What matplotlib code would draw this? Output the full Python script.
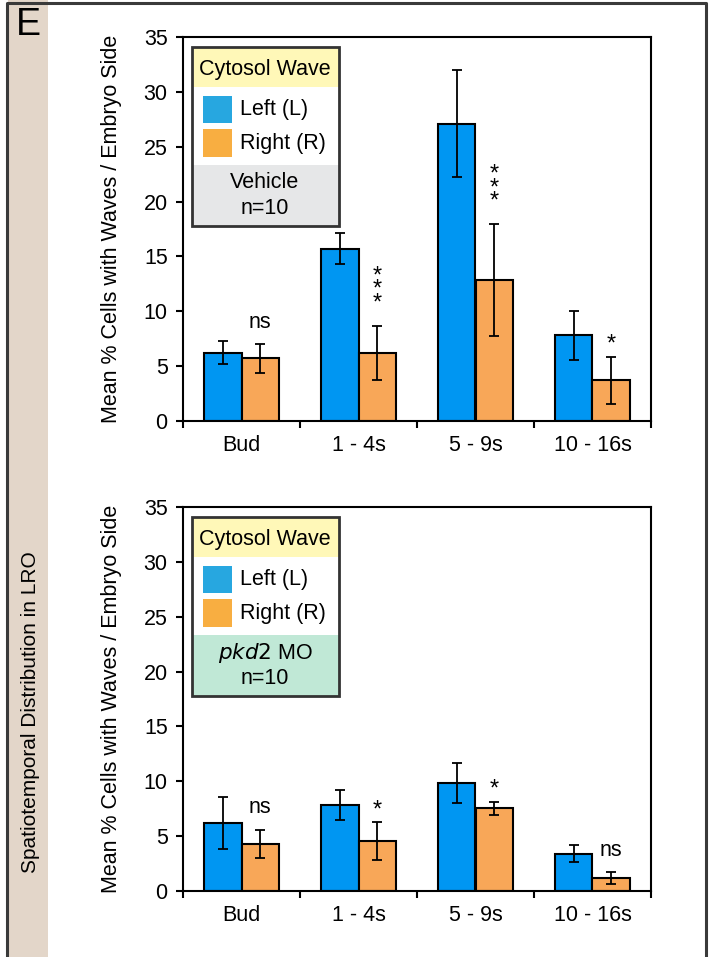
import matplotlib
matplotlib.use("Agg")
import matplotlib.pyplot as plt
from matplotlib.patches import Rectangle
import numpy as np

plt.rcParams['font.family'] = ['Liberation Sans', 'DejaVu Sans']

# Mean % cells with waves per embryo side, with error bars
stages = ["Bud", "1 - 4s", "5 - 9s", "10 - 16s"]

vehicle_left = [6.2, 15.7, 27.1, 7.8]
vehicle_left_err = [1.05, 1.4, 4.85, 2.2]
vehicle_right = [5.7, 6.2, 12.85, 3.7]
vehicle_right_err = [1.3, 2.5, 5.1, 2.15]
vehicle_sig = ["ns", "***", "***", "*"]

pkd2_left = [6.2, 7.85, 9.85, 3.4]
pkd2_left_err = [2.35, 1.4, 1.8, 0.8]
pkd2_right = [4.3, 4.55, 7.55, 1.15]
pkd2_right_err = [1.3, 1.7, 0.6, 0.55]
pkd2_sig = ["ns", "*", "*", "ns"]

W, H = 713, 957
BLUE = "#0096f2"
ORANGE = "#f8a758"
LEG_BLUE = "#27a7e0"
LEG_ORANGE = "#f8ae41"
FS = 15.5


def fx(x):
    return x / W


def fy(y):
    return 1 - y / H


fig = plt.figure(figsize=(W / 100, H / 100), dpi=100)

# outer frame and side strip
fig.add_artist(Rectangle((fx(8), 0), fx(40), 1, transform=fig.transFigure,
                         facecolor="#e3d6c9", edgecolor="none", zorder=0))
fig.add_artist(plt.Line2D([fx(7), fx(7), fx(706), fx(706)], [0, fy(3), fy(3), 0],
                          transform=fig.transFigure, color="#3a3a3a", lw=2.2))
fig.text(fx(28), fy(25), "E", fontsize=27, ha="center", va="center")
fig.text(fx(31), fy(712), "Spatiotemporal Distribution in LRO", rotation=90,
         fontsize=15, ha="center", va="center")


def panel(top_px, left, left_err, right, right_err, sig, cond_label, cond_color):
    bottom_px = top_px + 384
    ax = fig.add_axes([fx(183), fy(bottom_px), fx(651) - fx(183), fy(top_px) - fy(bottom_px)])
    x = np.arange(len(stages)) + 0.5
    bw = 0.32
    ekw = dict(elinewidth=1.3, capthick=1.3, capsize=3.5, ecolor="black")
    ax.bar(x - bw / 2, left, bw, yerr=left_err, color=BLUE, edgecolor="black",
           linewidth=1.5, error_kw=ekw, zorder=2)
    ax.bar(x + bw / 2, right, bw, yerr=right_err, color=ORANGE, edgecolor="black",
           linewidth=1.5, error_kw=ekw, zorder=2)
    for xi, v, e, s in zip(x, right, right_err, sig):
        if s == "***":
            ax.annotate("*\n*\n*", (xi + bw / 2, v + e), xytext=(0, 8), textcoords="offset points",
                        ha="center", va="bottom", fontsize=17, linespacing=0.5)
        elif s == "*":
            ax.annotate("*", (xi + bw / 2, v + e), xytext=(0, 1), textcoords="offset points",
                        ha="center", va="bottom", fontsize=17)
        else:
            ax.annotate(s, (xi + bw / 2, v + e), xytext=(0, 8), textcoords="offset points",
                        ha="center", va="bottom", fontsize=FS)
    ax.set_xlim(0, len(stages))
    ax.set_ylim(0, 35)
    ax.set_yticks(range(0, 36, 5))
    ax.set_xticks(range(len(stages) + 1))
    ax.set_xticklabels([])
    ax.set_xticks(x, minor=True)
    ax.set_xticklabels(stages, minor=True)
    ax.tick_params(axis="x", which="minor", length=0, pad=10, labelsize=FS)
    ax.tick_params(axis="x", which="major", length=5, width=1.5, direction="out")
    ax.tick_params(axis="y", length=5, width=1.5, direction="out", pad=6, labelsize=FS)
    for sp in ax.spines.values():
        sp.set_linewidth(1.5)
    fig.text(fx(112), fy(top_px + 192), "Mean % Cells with Waves / Embryo Side",
             rotation=90, fontsize=FS, ha="center", va="center")

    # legend block
    off = top_px - 37
    lx0, lx1 = 192, 339
    y0, y1, y2, y3 = 47 + off, 87 + off, 165 + off, 226 + off
    for ya, yb, c in [(y0, y1, "#fff8b8"), (y1, y2, "white"), (y2, y3, cond_color)]:
        fig.add_artist(Rectangle((fx(lx0), fy(yb)), fx(lx1 - lx0), fy(ya) - fy(yb),
                                 transform=fig.transFigure, facecolor=c, edgecolor="none", zorder=3))
    fig.add_artist(Rectangle((fx(lx0), fy(y3)), fx(lx1 - lx0), fy(y0) - fy(y3),
                             transform=fig.transFigure, facecolor="none", edgecolor="#333333",
                             lw=2, zorder=4))
    for (ya, yb), c in [((96, 123), LEG_BLUE), ((129, 157), LEG_ORANGE)]:
        fig.add_artist(Rectangle((fx(203), fy(yb + off)), fx(29), fy(ya + off) - fy(yb + off),
                                 transform=fig.transFigure, facecolor=c, edgecolor="none", zorder=4))
    fig.text(fx(265), fy(69 + off), "Cytosol Wave", fontsize=FS, ha="center", va="center", zorder=5)
    fig.text(fx(240), fy(110 + off), "Left (L)", fontsize=FS, ha="left", va="center", zorder=5)
    fig.text(fx(240), fy(143 + off), "Right (R)", fontsize=FS, ha="left", va="center", zorder=5)
    fig.text(fx(265), fy(183 + off), cond_label, fontsize=FS, ha="center", va="center", zorder=5)
    fig.text(fx(265), fy(208 + off), "n=10", fontsize=FS, ha="center", va="center", zorder=5)
    return ax


panel(37, vehicle_left, vehicle_left_err, vehicle_right, vehicle_right_err, vehicle_sig,
      "Vehicle", "#e6e7e8")
panel(507, pkd2_left, pkd2_left_err, pkd2_right, pkd2_right_err, pkd2_sig,
      r"$\it{pkd2}$ MO", "#c0e8d6")

fig.savefig("out.png", dpi=100)
